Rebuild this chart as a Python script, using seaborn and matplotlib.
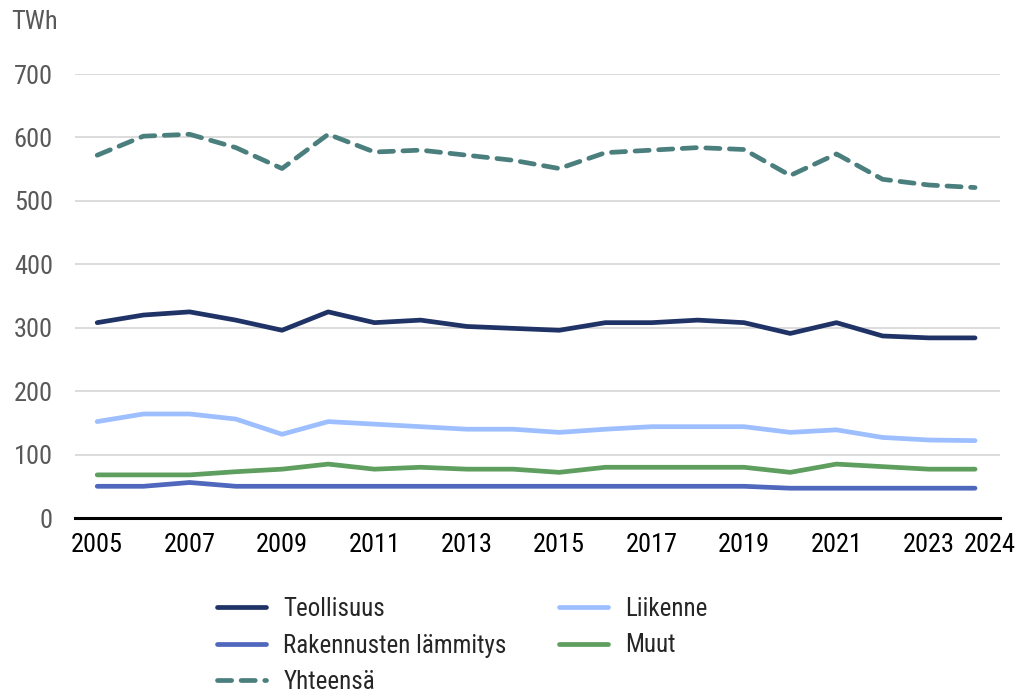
import matplotlib
matplotlib.use("Agg")
import matplotlib.pyplot as plt
import matplotlib.transforms as mtransforms
import seaborn as sns
import pandas as pd

# === Data (TWh) ===
years = list(range(2005, 2025))
teollisuus = [308, 320, 325, 312, 296, 325, 308, 312, 302, 299,
              296, 308, 308, 312, 308, 291, 308, 287, 284, 284]
liikenne = [152, 164, 164, 156, 132, 152, 148, 144, 140, 140,
            135, 140, 144, 144, 144, 135, 139, 127, 123, 122]
rakennukset = [50, 50, 56, 50, 50, 50, 50, 50, 50, 50,
               50, 50, 50, 50, 50, 47, 47, 47, 47, 47]
muut = [68, 68, 68, 73, 77, 85, 77, 80, 77, 77,
        72, 80, 80, 80, 80, 72, 85, 81, 77, 77]
yhteensa = [572, 602, 605, 584, 551, 605, 577, 580, 572, 564,
            551, 576, 580, 584, 581, 540, 574, 534, 525, 521]

xtick_years = [2005, 2007, 2009, 2011, 2013, 2015, 2017, 2019, 2021, 2023, 2024]
ytick_vals = [0, 100, 200, 300, 400, 500, 600, 700]

# legend order (column-major for a 2-column legend)
series = [
    ("Teollisuus", teollisuus, "#1F3366", "-"),
    ("Rakennusten lämmitys", rakennukset, "#4F67BC", "-"),
    ("Yhteensä", yhteensa, "#4A7F7E", "--"),
    ("Liikenne", liikenne, "#9DBEFF", "-"),
    ("Muut", muut, "#5E9E5E", "-"),
]

sns.set_theme(style="white")
plt.rcParams["font.family"] = ["Roboto Condensed", "Roboto", "DejaVu Sans"]

fig = plt.figure(figsize=(10.25, 6.97), dpi=100)
ax = fig.add_axes([0.0732, 0.2568, 0.9024, 0.637])

draw_order = ["Yhteensä", "Teollisuus", "Liikenne", "Muut", "Rakennusten lämmitys"]
lookup = {s[0]: s for s in series}
lines = {}
for name in draw_order:
    _, vals, color, ls = lookup[name]
    df = pd.DataFrame({"year": years, "value": vals})
    sns.lineplot(data=df, x="year", y="value", ax=ax, color=color, linewidth=3.4,
                 label=name)
    ln = ax.get_lines()[-1]
    ln.set_solid_capstyle("round")
    if ls == "--":
        ln.set_dashes((3.0, 2.0))
        ln.set_dash_capstyle("round")
    lines[name] = ln

ax.set_xlim(2004.52, 2024.54)
ax.set_ylim(0, 700)
ax.set_xticks(xtick_years)
ax.set_xticklabels([str(y) for y in xtick_years], fontsize=19, color="black")
ax.set_yticks(ytick_vals)
ax.set_yticklabels([str(v) for v in ytick_vals], fontsize=19, color="#595959")
ax.tick_params(axis="y", length=0, pad=16)
ax.tick_params(axis="x", length=0, pad=11)
ax.set_xlabel("")
ax.set_ylabel("")

# last label nudged right so it doesn't collide with 2023
last = ax.get_xticklabels()[-1]
last.set_transform(last.get_transform() + mtransforms.ScaledTranslation(15 / 100, 0, fig.dpi_scale_trans))

ax.grid(axis="y", color="#D9D9D9", linewidth=1.3)
ax.set_axisbelow(True)
for side in ["top", "right", "left"]:
    ax.spines[side].set_visible(False)
ax.spines["bottom"].set_color("black")
ax.spines["bottom"].set_linewidth(2.2)
ax.spines["bottom"].set_zorder(5)

fig.text(11 / 1025, 1 - 22 / 697, "TWh", fontsize=19, color="#595959", va="center", ha="left")

if ax.legend_:
    ax.legend_.remove()
handles = [lines[s[0]] for s in series]
labels = [s[0] for s in series]
fig.legend(handles, labels, ncol=2, frameon=False, fontsize=18,
           loc="upper left", bbox_to_anchor=(207 / 1025, 1 - 587 / 697),
           handlelength=1.95, handletextpad=0.7, columnspacing=2.1,
           labelspacing=0.5, borderaxespad=0)

fig.savefig("out.png", dpi=100)
